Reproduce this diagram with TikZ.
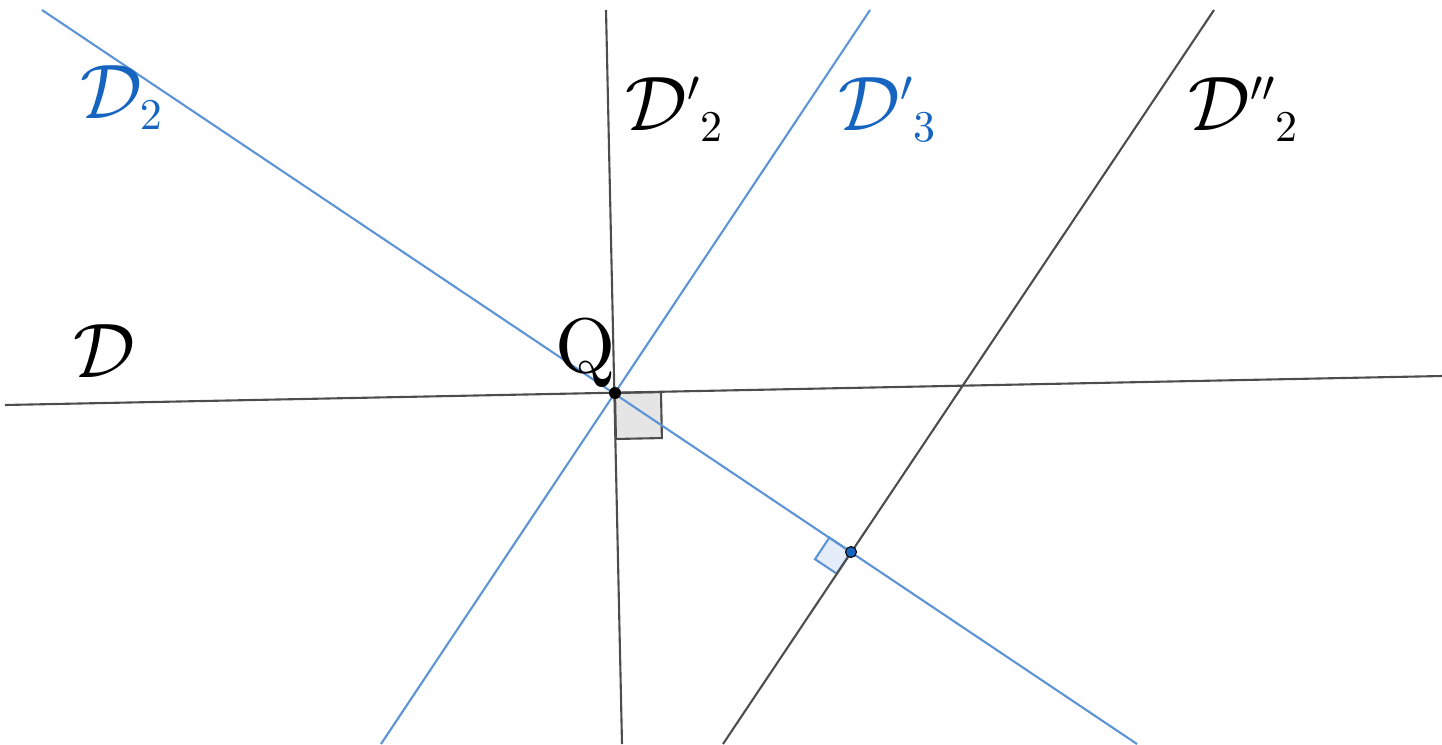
\documentclass[tikz,border=0pt]{standalone}
\usepackage{xcolor}
\usepackage{tikz}
\usetikzlibrary{calc}
\DeclareFontShape{OMS}{cmsy}{m}{n}{<-6>cmsy5<6-7>cmsy6<7-8>cmsy7<8-9>cmsy8<9-10>cmsy9<10->cmsy10}{}
\DeclareFontShape{OT1}{cmr}{m}{n}{<-6>cmr5<6-7>cmr6<7-8>cmr7<8-9>cmr8<9-10>cmr9<10->cmr10}{}
\DeclareMathSizes{44}{44}{25}{18}
\definecolor{lineblue}{RGB}{92,148,214}
\definecolor{labelblue}{RGB}{21,101,192}
\definecolor{darkline}{RGB}{77,77,77}
\definecolor{anglegray}{RGB}{229,229,229}
\definecolor{angleblue}{RGB}{228,237,249}
\begin{document}
\begin{tikzpicture}[
  x=0.02cm, y=-0.02cm,
  font=\fontsize{44}{53}\selectfont,
  blackline/.style={line width=1.2pt, draw=darkline},
  blueline/.style={line width=1.2pt, draw=lineblue},
  graymark/.style={line width=1.2pt, draw=darkline, fill=anglegray},
  bluemark/.style={line width=1.2pt, draw=lineblue, fill=angleblue},
  tag/.style={inner sep=0pt, anchor=base west, text=black},
  bluetag/.style={tag, text=labelblue}
]
\useasboundingbox (0,0) rectangle (1442,744);
\coordinate (Q) at (615,393);
\coordinate (P) at (851,552);
\coordinate (d-w) at (5,405);
\coordinate (d-e) at (1442,376);
\coordinate (d2-n) at (42,10);
\coordinate (d2-s) at (1137,744);
\coordinate (d2p-n) at (606,10);
\coordinate (d2p-s) at (622,744);
\coordinate (d3p-n) at (870,10);
\coordinate (d3p-s) at (381,744);
\coordinate (d2pp-n) at (1214,10);
\coordinate (d2pp-s) at (723,744);
\coordinate (qa) at ($(Q)!0.92cm!(d-e)$);
\coordinate (qb) at ($(Q)!0.92cm!(d2p-s)$);
\coordinate (pa) at ($(P)!0.52cm!(d2-n)$);
\coordinate (pb) at ($(P)!0.52cm!(d2pp-s)$);
\filldraw [graymark] (Q) -- (qa) -- ($(qa)+(qb)-(Q)$) -- (qb) -- cycle;
\filldraw [bluemark] (P) -- (pa) -- ($(pa)+(pb)-(P)$) -- (pb) -- cycle;
\draw [blackline] (d-w) -- (d-e);
\draw [blackline] (d2p-n) -- (d2p-s);
\draw [blackline] (d2pp-n) -- (d2pp-s);
\draw [blueline] (d2-n) -- (d2-s);
\draw [blueline] (d3p-n) -- (d3p-s);
\fill [black] (Q) circle (0.12cm);
\filldraw [fill=labelblue, draw=black, line width=0.6pt] (P) circle (0.11cm);
\node (lbl-d2) [bluetag] at (80,118) {$\mathcal{D}_2$};
\node (lbl-d2p) [tag] at (625,130) {${\mathcal{D}'}_2$};
\node (lbl-d3p) [bluetag] at (838,130) {${\mathcal{D}'}_3$};
\node (lbl-d2pp) [tag] at (1188,130) {${\mathcal{D}''}_2$};
\node (lbl-d) [tag] at (73,377) {$\mathcal{D}$};
\node (lbl-q) [tag] at (555,372) {$\mathrm{Q}$};
\end{tikzpicture}
\end{document}
